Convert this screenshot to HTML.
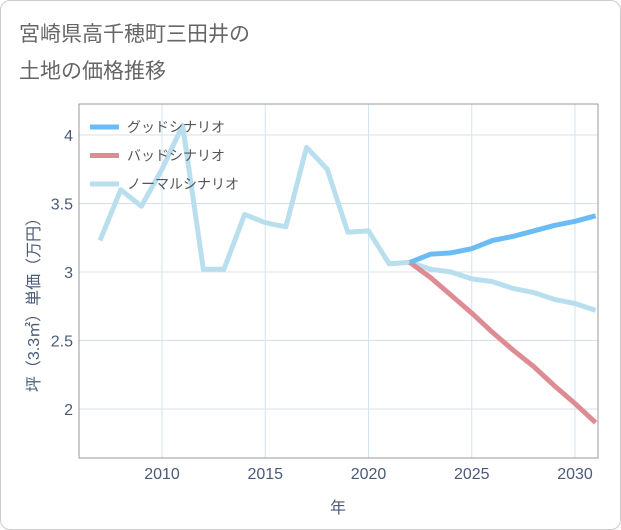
<!DOCTYPE html>
<html><head><meta charset="utf-8">
<style>
html,body{margin:0;padding:0;background:#fff;}
#card{position:absolute;left:0;top:0;width:619px;height:528px;border:1px solid #ccc;border-radius:10px;background:#fff;overflow:hidden;}
svg text{font-family:"Liberation Sans","Noto Sans CJK JP",sans-serif;}
</style></head>
<body>
<div id="card">
<svg id="chart" width="621" height="530">
<text x="18" y="40" font-size="21" fill="#666">宮崎県高千穂町三田井の</text>
<text x="18" y="77" font-size="21" fill="#666">土地の価格推移</text>
<g id="grid"></g><g id="series"></g><g id="legend"></g>
<text transform="translate(38,300) rotate(-90)" text-anchor="middle" font-size="16" fill="#4a5a78">坪（3.3㎡）単価（万円）</text>
<text x="337" y="512" text-anchor="middle" font-size="16" fill="#4a5a78">年</text>
</svg>
</div>
<script>
const normalYears=[2007,2008,2009,2010,2011,2012,2013,2014,2015,2016,2017,2018,2019,2020,2021,2022,2023,2024,2025,2026,2027,2028,2029,2030,2031];
const normalValues=[3.23,3.6,3.48,3.75,4.07,3.02,3.02,3.42,3.36,3.33,3.91,3.75,3.29,3.30,3.06,3.07,3.02,3.00,2.95,2.93,2.88,2.85,2.80,2.77,2.72];
const goodYears=[2022,2023,2024,2025,2026,2027,2028,2029,2030,2031];
const goodValues=[3.07,3.13,3.14,3.17,3.23,3.26,3.30,3.34,3.37,3.41];
const badYears=[2022,2023,2024,2025,2026,2027,2028,2029,2030,2031];
const badValues=[3.07,2.96,2.83,2.70,2.56,2.43,2.31,2.17,2.04,1.90];
const xTicks=[2010,2015,2020,2025,2030];
const yTicks=[2,2.5,3,3.5,4];
const yTickLabels=["2","2.5","3","3.5","4"];
const legendLabels=["グッドシナリオ","バッドシナリオ","ノーマルシナリオ"];

const NS="http://www.w3.org/2000/svg";
const L=78,R=597,T=103,B=457;
const x=v=>161+(v-2010)*20.65;
const y=v=>271-(v-3)*137;
function mk(tag,attrs,parent){const e=document.createElementNS(NS,tag);for(const k in attrs)e.setAttribute(k,attrs[k]);parent.appendChild(e);return e;}
const grid=document.getElementById('grid'),series=document.getElementById('series'),legend=document.getElementById('legend');
xTicks.forEach(t=>{
 const ln=mk('line',{x1:x(t),x2:x(t),y1:T,y2:B,stroke:'#cfe6f2','stroke-width':1},grid);
 
 
 const tx=mk('text',{x:x(t),y:478,'text-anchor':'middle','font-size':16,fill:'#4a5a78'},grid);
 tx.textContent=t;
 
 
});
yTicks.forEach((t,i)=>{
 const ln=mk('line',{x1:L,x2:R,y1:y(t),y2:y(t),stroke:'#d8dfe8','stroke-width':1},grid);
 
 
 const tx=mk('text',{x:72,y:y(t)+6,'text-anchor':'end','font-size':16,fill:'#4a5a78'},grid);
 tx.textContent=yTickLabels[i];
 
 
});
const frame=mk('rect',{x:L,y:T,width:R-L,height:B-T,fill:'none',stroke:'#999','stroke-width':1},grid);


function line(xs,vs,color,name){
 const p=mk('polyline',{points:xs.map((v,i)=>x(v)+','+y(vs[i])).join(' '),fill:'none',stroke:color,'stroke-width':5,'stroke-linejoin':'round'},series);
 
 
}
line(normalYears,normalValues,'#b9dfee','normal-scenario-line');
line(badYears,badValues,'#de8c94','bad-scenario-line');
line(goodYears,goodValues,'#6bbcf5','good-scenario-line');
const lc=['#6bbcf5','#de8c94','#b9dfee'];
legendLabels.forEach((lab,i)=>{
 const yy=126+i*28.5;
 const sw=mk('line',{x1:89,x2:118,y1:yy,y2:yy,stroke:lc[i],'stroke-width':5},legend);
 
 
 const tx=mk('text',{x:126,y:yy+5,'font-size':14,fill:'#555'},legend);
 tx.textContent=lab;
 
 
});
</script>
</body></html>
